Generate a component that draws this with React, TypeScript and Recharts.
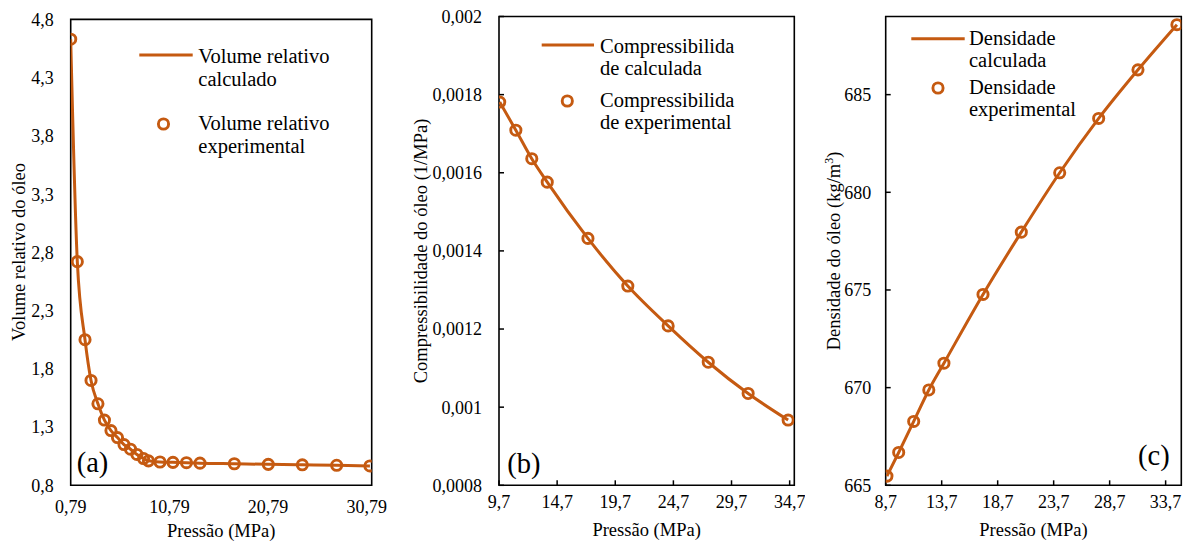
import React from 'react';
import { ComposedChart, Line, Scatter, XAxis, YAxis, ReferenceArea, Customized } from 'recharts';

const ORANGE = '#C55A11';
const FONT = "'Liberation Serif', 'Times New Roman', serif";

// (a) volume relativo do óleo
const pressaoA = [0.79, 1.46, 2.24, 2.85, 3.55, 4.21, 4.87, 5.53, 6.19, 6.85, 7.5, 8.17, 8.67, 9.84, 11.15, 12.52, 13.89, 17.37, 20.81, 24.26, 27.74, 31.11];
const volumeRelativo = [4.63, 2.72, 2.05, 1.7, 1.5, 1.36, 1.27, 1.21, 1.15, 1.11, 1.065, 1.03, 1.01, 1.0, 0.997, 0.994, 0.99, 0.985, 0.98, 0.976, 0.972, 0.966];
const xTicksA = [0.79, 10.79, 20.79, 30.79];
const yTicksA = [0.8, 1.3, 1.8, 2.3, 2.8, 3.3, 3.8, 4.3, 4.8];

// (b) compressibilidade do óleo
const pressaoB = [9.76, 11.15, 12.52, 13.85, 17.35, 20.78, 24.25, 27.7, 31.13, 34.57];
const compressibilidade = [0.001781, 0.001709, 0.001636, 0.001576, 0.001432, 0.00131, 0.001208, 0.001115, 0.001035, 0.000967];
const xTicksB = [9.7, 14.7, 19.7, 24.7, 29.7, 34.7];
const yTicksB = [0.0008, 0.001, 0.0012, 0.0014, 0.0016, 0.0018, 0.002];

// (c) densidade do óleo
const pressaoC = [8.81, 9.86, 11.2, 12.55, 13.9, 17.39, 20.81, 24.24, 27.72, 31.23, 34.71];
const densidade = [665.47, 666.68, 668.27, 669.88, 671.25, 674.77, 677.96, 681.0, 683.78, 686.27, 688.58];
const xTicksC = [8.7, 13.7, 18.7, 23.7, 28.7, 33.7];
const yTicksC = [665, 670, 675, 680, 685];

const comma = (v: number) => String(v).replace('.', ',');

const ring = (props: any) => (
  <circle cx={props.cx} cy={props.cy} r={5.1} fill="none" stroke={ORANGE} strokeWidth={2.9} />
);

const tickStyle = { fill: '#000', fontSize: 18, fontFamily: FONT };

function Panel({ cfg }: { cfg: any }) {
  const rows = cfg.xs.map((x: number, i: number) => ({ x, y: cfg.ys[i] }));
  const lg = cfg.legend;
  const overlay = () => (
    <g fontFamily={FONT} fill="#000">
      <text
        x={cfg.yTitle.x}
        y={cfg.yTitle.y}
        transform={`rotate(-90 ${cfg.yTitle.x} ${cfg.yTitle.y})`}
        textAnchor="middle"
        fontSize={18.5}
      >
        {cfg.yTitle.text}
        {cfg.yTitle.sup && (
          <>
            <tspan dy={-7} fontSize={12}>{cfg.yTitle.sup}</tspan>
            <tspan dy={7}>)</tspan>
          </>
        )}
      </text>
      <text x={cfg.xTitle.x} y={cfg.xTitle.y} textAnchor="middle" fontSize={18.5}>
        Pressão (MPa)
      </text>
      <text x={cfg.letter.x} y={cfg.letter.y} fontSize={28.5}>
        {cfg.letter.text}
      </text>
      <line x1={lg.lineX[0]} x2={lg.lineX[1]} y1={lg.lineY} y2={lg.lineY} stroke={ORANGE} strokeWidth={3} />
      <circle cx={lg.ring[0]} cy={lg.ring[1]} r={5.1} fill="none" stroke={ORANGE} strokeWidth={2.9} />
      {lg.texts.map((t: string, i: number) => (
        <text key={i} x={lg.textX} y={lg.baselines[i]} fontSize={20.5}>
          {t}
        </text>
      ))}
    </g>
  );
  return (
    <div style={{ position: 'absolute', left: cfg.left, top: 0 }}>
      <ComposedChart
        width={cfg.width}
        height={552}
        data={rows}
        margin={{ top: cfg.top, right: cfg.right, bottom: 0, left: 0 }}
        style={{ fontFamily: FONT }}
      >
        <XAxis
          type="number"
          dataKey="x"
          domain={cfg.xDomain}
          ticks={cfg.xTicks}
          interval={0}
          allowDataOverflow
          axisLine={false}
          tickLine={cfg.inward ? { stroke: '#000', strokeWidth: 1.5 } : false}
          tickSize={cfg.inward ? -5 : 0}
          tickMargin={15}
          height={66.7}
          tick={tickStyle}
          tickFormatter={comma}
        />
        <YAxis
          type="number"
          domain={cfg.yDomain}
          ticks={cfg.yTicks}
          interval={0}
          allowDataOverflow
          axisLine={false}
          tickLine={cfg.inward ? { stroke: '#000', strokeWidth: 1.5 } : false}
          tickSize={cfg.inward ? -5 : 0}
          tickMargin={cfg.yMargin}
          width={cfg.yWidth}
          tick={tickStyle}
          tickFormatter={comma}
        />
        <ReferenceArea
          x1={cfg.xDomain[0]}
          x2={cfg.xDomain[1]}
          y1={cfg.yDomain[0]}
          y2={cfg.yDomain[1]}
          fill="none"
          stroke="#000"
          strokeWidth={1.6}
          fillOpacity={0}
        />
        <Line type="monotone" dataKey="y" stroke={ORANGE} strokeWidth={3} dot={false} isAnimationActive={false} />
        <Scatter dataKey="y" shape={ring} isAnimationActive={false} />
        <Customized component={overlay} />
      </ComposedChart>
    </div>
  );
}

const panelA = {
  left: 0, width: 390, top: 19.4, right: 18.3, yWidth: 70.7, yMargin: 17, inward: false,
  xs: pressaoA, ys: volumeRelativo, xDomain: [0.79, 31.29], yDomain: [0.8, 4.8], xTicks: xTicksA, yTicks: yTicksA,
  yTitle: { x: 25, y: 252, text: 'Volume relativo do óleo' },
  xTitle: { x: 221.2, y: 537 },
  letter: { x: 76.7, y: 471.5, text: '(a)' },
  legend: {
    lineX: [139.3, 192.7], lineY: 55, ring: [163.5, 124], textX: 198.3,
    texts: ['Volume relativo', 'calculado', 'Volume relativo', 'experimental'],
    baselines: [63, 85.5, 130, 152.5],
  },
};

const panelB = {
  left: 400, width: 405, top: 16.5, right: 10.7, yWidth: 99, yMargin: 22, inward: true,
  xs: pressaoB, ys: compressibilidade, xDomain: [9.7, 35.1], yDomain: [0.0008, 0.002], xTicks: xTicksB, yTicks: yTicksB,
  yTitle: { x: 27, y: 251, text: 'Compressibilidade do óleo (1/MPa)' },
  xTitle: { x: 246.6, y: 536 },
  letter: { x: 107.3, y: 473, text: '(b)' },
  legend: {
    lineX: [141.7, 194], lineY: 45, ring: [167.3, 101], textX: 200,
    texts: ['Compressibilida', 'de calculada', 'Compressibilida', 'de experimental'],
    baselines: [52.5, 74.5, 106.5, 128.5],
  },
};

const panelC = {
  left: 805, width: 388, top: 16.5, right: 11.7, yWidth: 80.7, yMargin: 19.4, inward: true,
  xs: pressaoC, ys: densidade, xDomain: [8.7, 35.1], yDomain: [665, 689], xTicks: xTicksC, yTicks: yTicksC,
  yTitle: { x: 34.5, y: 251, text: 'Densidade do óleo (kg/m', sup: '3' },
  xTitle: { x: 228.5, y: 536 },
  letter: { x: 333, y: 464.5, text: '(c)' },
  legend: {
    lineX: [106.3, 159.7], lineY: 38.7, ring: [133, 88], textX: 164,
    texts: ['Densidade', 'calculada', 'Densidade', 'experimental'],
    baselines: [44.5, 66.5, 94, 116],
  },
};

export default function App() {
  return (
    <div style={{ position: 'absolute', left: 0, top: 0, width: 1193, height: 552, background: '#fff', fontFamily: FONT }}>
      <Panel cfg={panelA} />
      <Panel cfg={panelB} />
      <Panel cfg={panelC} />
    </div>
  );
}
